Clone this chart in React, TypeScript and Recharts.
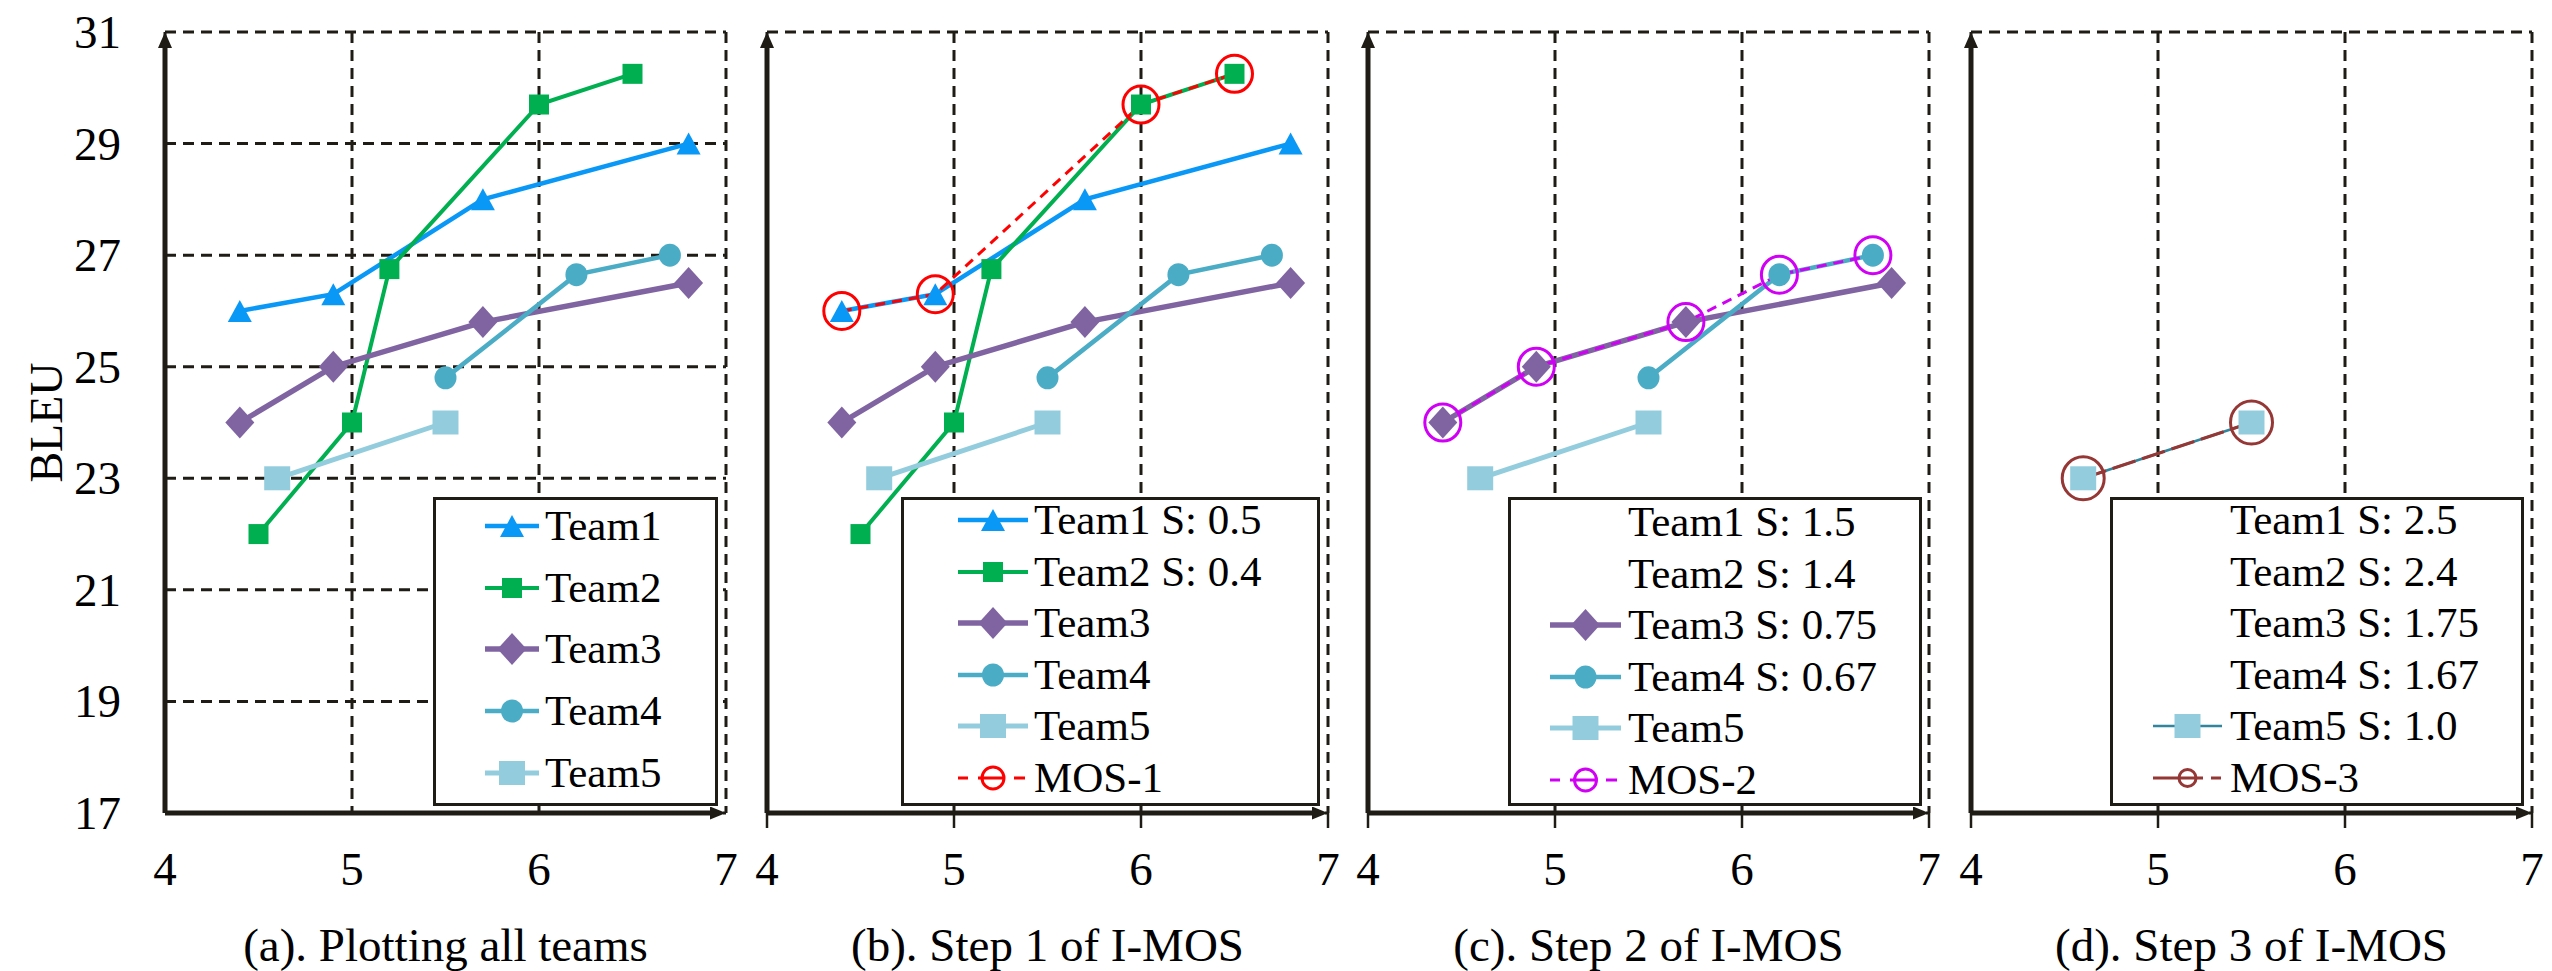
import React from "react";
import { LineChart, Line, XAxis, YAxis, CartesianGrid, Legend } from "recharts";

// axis ticks
const xTicks = [4, 5, 6, 7];
const yTicks = [17, 19, 21, 23, 25, 27, 29, 31];

// team curves
const team1X = [4.4, 4.9, 5.7, 6.8];
const team1Y = [26, 26.3, 28, 29];
const team2X = [4.5, 5.0, 5.2, 6.0, 6.5];
const team2Y = [22, 24, 26.75, 29.7, 30.25];
const team3X = [4.4, 4.9, 5.7, 6.8];
const team3Y = [24, 25, 25.8, 26.5];
const team4X = [5.5, 6.2, 6.7];
const team4Y = [24.8, 26.65, 27];
const team5X = [4.6, 5.5];
const team5Y = [23, 24];

// I-MOS steps
const mos1X = [4.4, 4.9, 6.0, 6.5];
const mos1Y = [26, 26.3, 29.7, 30.25];
const mos2X = [4.4, 4.9, 5.7, 6.2, 6.7];
const mos2Y = [24, 25, 25.8, 26.65, 27];
const mos3X = [4.6, 5.5];
const mos3Y = [23, 24];

const captions = [
  "(a). Plotting all teams",
  "(b). Step 1 of I-MOS",
  "(c). Step 2 of I-MOS",
  "(d). Step 3 of I-MOS",
];

const legendLabelsA = ["Team1", "Team2", "Team3", "Team4", "Team5"];
const legendLabelsB = ["Team1 S: 0.5", "Team2 S: 0.4", "Team3", "Team4", "Team5", "MOS-1"];
const legendLabelsC = ["Team1 S: 1.5", "Team2 S: 1.4", "Team3 S: 0.75", "Team4 S: 0.67", "Team5", "MOS-2"];
const legendLabelsD = ["Team1 S: 2.5", "Team2 S: 2.4", "Team3 S: 1.75", "Team4 S: 1.67", "Team5 S: 1.0", "MOS-3"];

const FONT = "'Liberation Serif', 'Times New Roman', Times, serif";
const AX = "#1e1c14";

type Shape = "triangle" | "square" | "diamond" | "circle" | "ring";

interface SeriesStyle {
  id: string;
  xs: number[];
  ys: number[];
  color: string;
  mark?: string;
  width: number;
  dash?: string;
  shape: Shape;
  w: number;
  h: number;
  legendDash?: string;
  legendR?: number;
}

const SERIES: Record<string, SeriesStyle> = {
  t1: { id: "t1", xs: team1X, ys: team1Y, color: "#0A98F7", width: 4.5, shape: "triangle", w: 24, h: 22 },
  t2: { id: "t2", xs: team2X, ys: team2Y, color: "#00B050", width: 4, shape: "square", w: 20, h: 20 },
  t3: { id: "t3", xs: team3X, ys: team3Y, color: "#8064A2", width: 5.5, shape: "diamond", w: 29, h: 32 },
  t4: { id: "t4", xs: team4X, ys: team4Y, color: "#4BACC6", width: 4.5, shape: "circle", w: 22, h: 23 },
  t5: { id: "t5", xs: team5X, ys: team5Y, color: "#93CDDD", width: 5, shape: "square", w: 26, h: 24 },
  t5d: { id: "t5d", xs: team5X, ys: team5Y, color: "#31859C", mark: "#93CDDD", width: 2.5, shape: "square", w: 26, h: 24 },
  mos1: { id: "mos1", xs: mos1X, ys: mos1Y, color: "#FF0000", width: 3, dash: "10 7", shape: "ring", w: 36, h: 37, legendDash: "10 10 25 11 11", legendR: 11 },
  mos2: { id: "mos2", xs: mos2X, ys: mos2Y, color: "#D000F5", width: 3, dash: "10 7", shape: "ring", w: 36, h: 37, legendDash: "10 10 25 11 11", legendR: 11 },
  mos3: { id: "mos3", xs: mos3X, ys: mos3Y, color: "#953735", width: 3, dash: "24 7", shape: "ring", w: 42, h: 43, legendDash: "50 8 10 20", legendR: 8.5 },
};

const toPoints = (xs: number[], ys: number[]) => xs.map((x, i) => ({ x, y: ys[i] }));

function Mark({ cx, cy, s, legend }: { cx: number; cy: number; s: SeriesStyle; legend?: boolean }) {
  const fill = s.mark || s.color;
  const w = s.w / 2;
  const h = s.h / 2;
  switch (s.shape) {
    case "triangle":
      return <polygon points={`${cx},${cy - h} ${cx + w},${cy + h} ${cx - w},${cy + h}`} fill={fill} />;
    case "square":
      return <rect x={cx - w} y={cy - h} width={s.w} height={s.h} fill={fill} />;
    case "diamond":
      return <polygon points={`${cx},${cy - h} ${cx + w},${cy} ${cx},${cy + h} ${cx - w},${cy}`} fill={fill} />;
    case "circle":
      return <ellipse cx={cx} cy={cy} rx={w} ry={h} fill={fill} />;
    default: {
      const r = legend ? s.legendR || 10 : w;
      const ry = legend ? r : h;
      return <ellipse cx={cx} cy={cy} rx={r} ry={ry} fill="none" stroke={s.color} strokeWidth={3} />;
    }
  }
}

const dotFor = (s: SeriesStyle) => (p: any) => {
  if (p.cx == null || p.cy == null) return <g key={`${s.id}-${p.index}`} />;
  return (
    <g key={`${s.id}-${p.index}`}>
      <Mark cx={p.cx} cy={p.cy} s={s} />
    </g>
  );
};

interface LegendRow {
  label: string;
  key: string | null;
}

interface PanelDef {
  id: string;
  left: number;
  caption: string;
  series: string[];
  legend: LegendRow[];
  ticks: boolean;
  box: { left: number; width: number };
  symLeft: number;
  symW: number;
  textLeft: number;
  firstRow: number;
  rowGap: number;
}

const rows = (labels: string[], keys: (string | null)[]) =>
  labels.map((label, i) => ({ label, key: keys[i] }));

const PANELS: PanelDef[] = [
  {
    id: "a", left: 0, caption: captions[0],
    series: ["t1", "t2", "t3", "t4", "t5"],
    legend: rows(legendLabelsA, ["t1", "t2", "t3", "t4", "t5"]),
    ticks: false, box: { left: 433, width: 285 },
    symLeft: 52, symW: 54, textLeft: 112, firstRow: 29, rowGap: 61.7,
  },
  {
    id: "b", left: 602, caption: captions[1],
    series: ["t1", "t2", "t3", "t4", "t5", "mos1"],
    legend: rows(legendLabelsB, ["t1", "t2", "t3", "t4", "t5", "mos1"]),
    ticks: true, box: { left: 299, width: 419 },
    symLeft: 57, symW: 70, textLeft: 133, firstRow: 23, rowGap: 51.6,
  },
  {
    id: "c", left: 1203, caption: captions[2],
    series: ["t3", "t4", "t5", "mos2"],
    legend: rows(legendLabelsC, [null, null, "t3", "t4", "t5", "mos2"]),
    ticks: true, box: { left: 305, width: 414 },
    symLeft: 42, symW: 71, textLeft: 120, firstRow: 25, rowGap: 51.6,
  },
  {
    id: "d", left: 1806, caption: captions[3],
    series: ["t5d", "mos3"],
    legend: rows(legendLabelsD, [null, null, null, null, "t5d", "mos3"]),
    ticks: true, box: { left: 304, width: 414 },
    symLeft: 43, symW: 69, textLeft: 120, firstRow: 23, rowGap: 51.6,
  },
];

function LegendBox({ panel }: { panel: PanelDef }) {
  return (
    <div
      style={{
        position: "relative",
        width: panel.box.width,
        height: 309,
        boxSizing: "border-box",
        border: `3px solid ${AX}`,
        background: "#fff",
        fontFamily: FONT,
        color: "#000",
      }}
    >
      {panel.legend.map((r, i) => {
        const s = r.key ? SERIES[r.key] : null;
        const top = panel.firstRow + i * panel.rowGap - 3;
        return (
          <div key={i} style={{ position: "absolute", left: 0, top: top - 22, width: "100%", height: 44 }}>
            {s && (
              <svg
                width={panel.symW}
                height={44}
                style={{ position: "absolute", left: panel.symLeft - 3, top: 0, overflow: "visible" }}
              >
                <line
                  x1={0}
                  y1={22}
                  x2={panel.symW}
                  y2={22}
                  stroke={s.color}
                  strokeWidth={s.width}
                  strokeDasharray={s.legendDash}
                />
                <Mark cx={panel.symW / 2} cy={22} s={s} legend />
              </svg>
            )}
            <span
              style={{
                position: "absolute",
                left: panel.textLeft - 3,
                top: 0,
                lineHeight: "44px",
                fontSize: 43,
                whiteSpace: "nowrap",
              }}
            >
              {r.label}
            </span>
          </div>
        );
      })}
    </div>
  );
}

const XTick = ({ x, y, payload }: any) => (
  <text x={x} y={y} dy={32} textAnchor="middle" fontSize={47} fontFamily={FONT} fill="#000">
    {payload.value}
  </text>
);

const YTick = ({ x, y, payload }: any) => (
  <text x={x} y={y} dy={16} textAnchor="end" fontSize={47} fontFamily={FONT} fill="#000">
    {payload.value}
  </text>
);

const captionLabel = (text: string) => (props: any) => {
  const vb = props.viewBox || {};
  return (
    <text x={vb.x + vb.width / 2} y={vb.y + 148} textAnchor="middle" fontSize={47} fontFamily={FONT} fill="#000">
      {text}
    </text>
  );
};

const bleuLabel = (props: any) => {
  const vb = props.viewBox || {};
  const x = vb.x + vb.width - 103;
  const y = vb.y + vb.height / 2;
  return (
    <text x={x} y={y} transform={`rotate(-90, ${x}, ${y})`} textAnchor="middle" fontSize={46} fontFamily={FONT} fill="#000">
      BLEU
    </text>
  );
};

function Panel({ p }: { p: PanelDef }) {
  const arrowY = `arrY-${p.id}`;
  const arrowX = `arrX-${p.id}`;
  return (
    <div style={{ position: "absolute", left: p.left, top: 0 }}>
      <LineChart width={760} height={971} margin={{ top: 32, right: 34, bottom: 98, left: 105 }}>
        <defs>
          <marker id={arrowY} viewBox="0 0 16 14" markerWidth={16} markerHeight={14} refX={16} refY={7}
            orient="auto-start-reverse" markerUnits="userSpaceOnUse">
            <path d="M0,0 L16,7 L0,14 Z" fill={AX} />
          </marker>
          <marker id={arrowX} viewBox="0 0 16 13" markerWidth={16} markerHeight={13} refX={16} refY={6.5}
            orient="auto" markerUnits="userSpaceOnUse">
            <path d="M0,0 L16,6.5 L0,13 Z" fill={AX} />
          </marker>
        </defs>
        <CartesianGrid stroke={AX} strokeWidth={3} strokeDasharray="11 7" />
        <XAxis
          type="number"
          dataKey="x"
          domain={[4, 7]}
          ticks={xTicks}
          height={60}
          tickSize={p.ticks ? 15 : 0}
          tickMargin={p.ticks ? 25 : 40}
          tickLine={p.ticks ? { stroke: AX, strokeWidth: 2.5 } : false}
          axisLine={{ stroke: AX, strokeWidth: 5, strokeDasharray: "549 100", markerEnd: `url(#${arrowX})` }}
          tick={<XTick />}
          label={captionLabel(p.caption)}
        />
        <YAxis
          type="number"
          dataKey="y"
          domain={[17, 31]}
          ticks={yTicks}
          width={60}
          tickSize={p.ticks ? 13 : 0}
          tickMargin={44}
          tickLine={p.ticks ? { stroke: AX, strokeWidth: 2.5 } : false}
          axisLine={{ stroke: AX, strokeWidth: 5, strokeDasharray: "0 12 2000", markerStart: `url(#${arrowY})` }}
          tick={p.ticks ? false : <YTick />}
          label={p.ticks ? undefined : bleuLabel}
        />
        {p.series.map((k) => {
          const s = SERIES[k];
          return (
            <Line
              key={k}
              data={toPoints(s.xs, s.ys)}
              dataKey="y"
              type="linear"
              stroke={s.color}
              strokeWidth={s.width}
              strokeDasharray={s.dash}
              dot={dotFor(s)}
              activeDot={false}
              isAnimationActive={false}
            />
          );
        })}
        <Legend
          layout="vertical"
          align="center"
          verticalAlign="middle"
          wrapperStyle={{ left: p.box.left, top: 497, width: p.box.width, height: 309 }}
          content={() => <LegendBox panel={p} />}
        />
      </LineChart>
    </div>
  );
}

export default function App() {
  return (
    <div style={{ position: "absolute", left: 0, top: 0, width: 2552, height: 971, background: "#fff", overflow: "hidden" }}>
      {PANELS.map((p) => (
        <Panel key={p.id} p={p} />
      ))}
    </div>
  );
}
